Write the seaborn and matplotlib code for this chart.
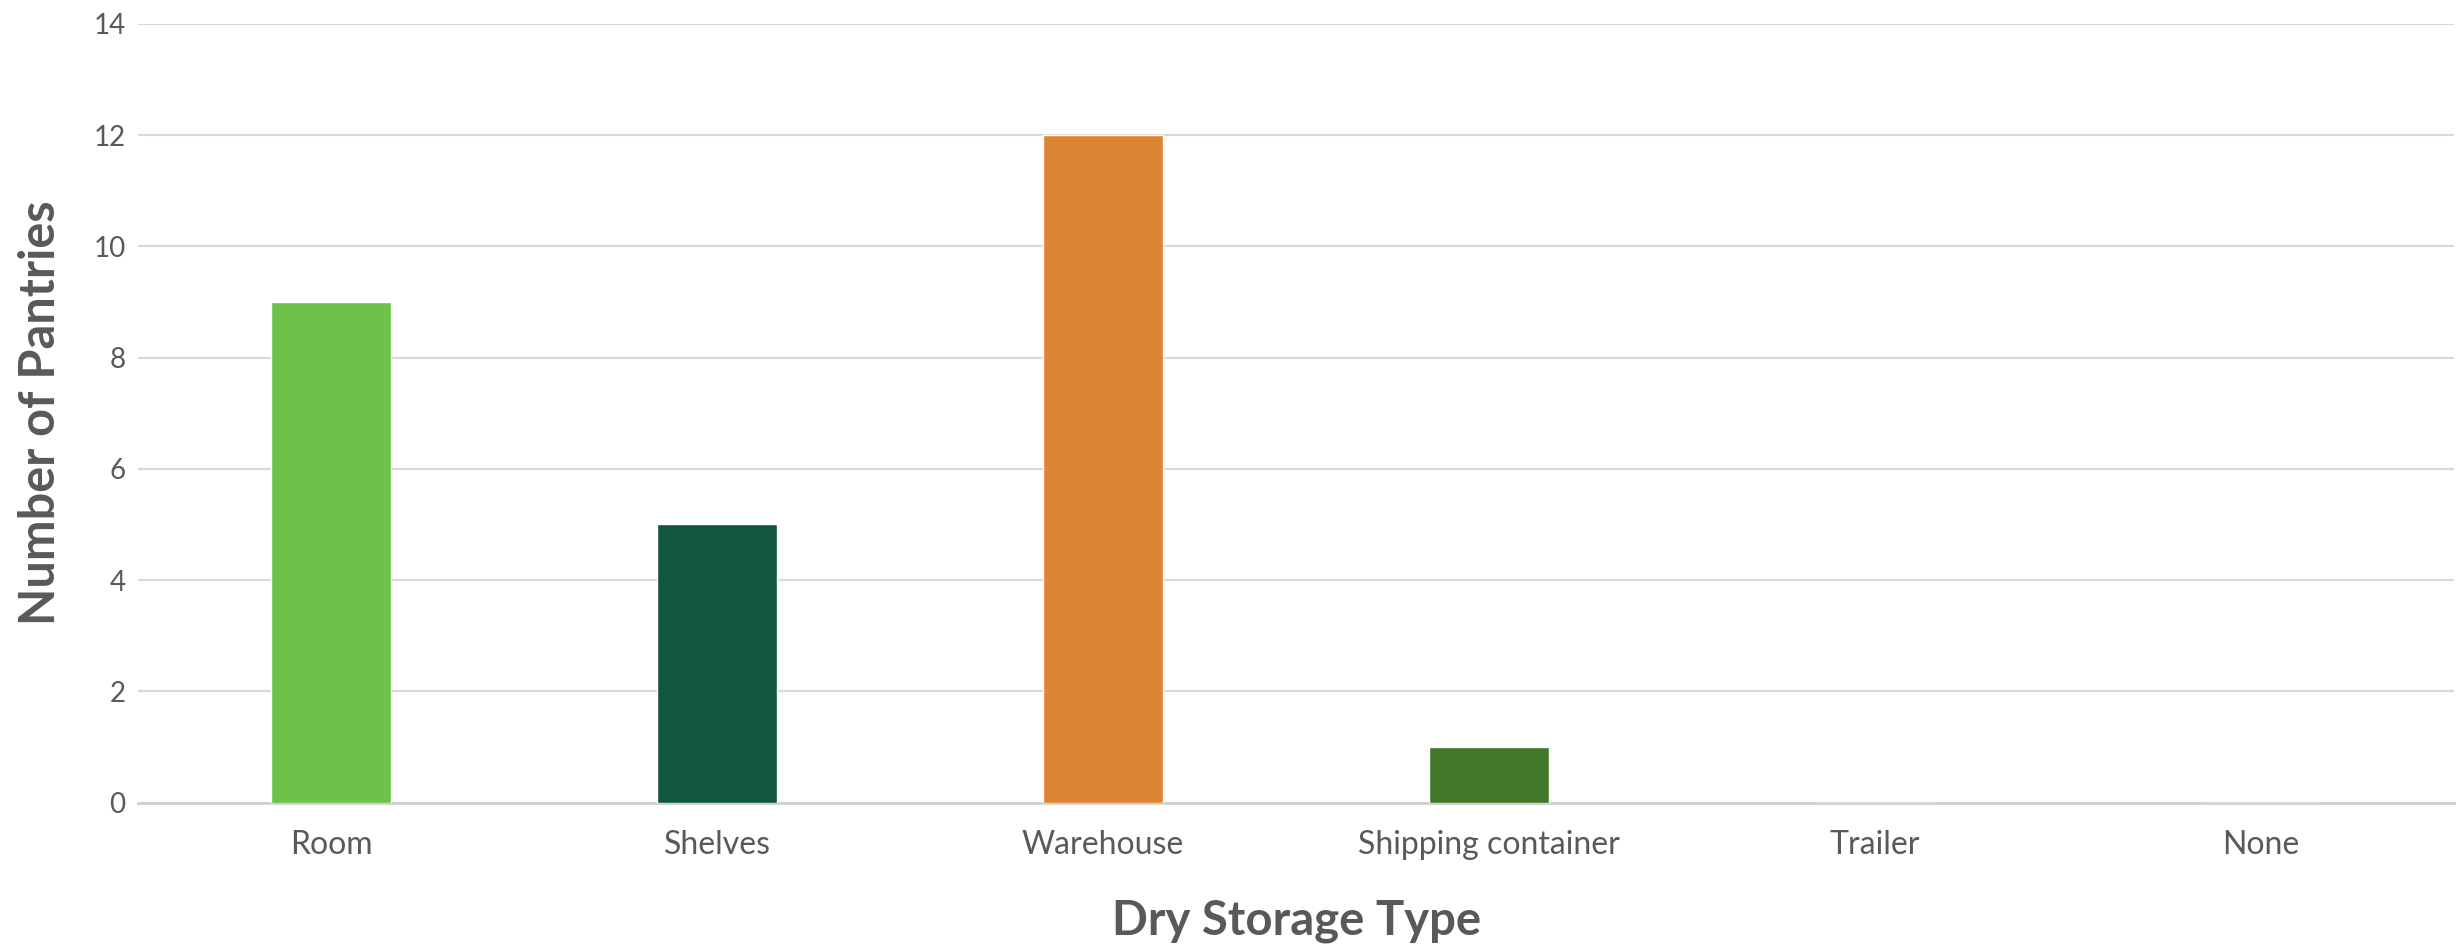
import seaborn as sns
import matplotlib.pyplot as plt
import pandas as pd

# data
storage_types = ['Room', 'Shelves', 'Warehouse', 'Shipping container', 'Trailer', 'None']
pantry_counts = [9, 5, 12, 1, 0, 0]
bar_colors = ['#6CC24A', '#115740', '#DC8633', '#41782A', '#6CC24A', '#6CC24A']
y_ticks = [0, 2, 4, 6, 8, 10, 12, 14]

df = pd.DataFrame({'type': storage_types, 'count': pantry_counts})

sns.set_style('white')
plt.rcParams['font.family'] = ['Lato', 'DejaVu Sans']

fig = plt.figure(figsize=(24.64, 9.51), dpi=100)
ax = fig.add_axes([0.056, 0.156, 0.94, 0.819])

sns.barplot(data=df, x='type', y='count', hue='type', palette=bar_colors,
            width=0.31, legend=False, saturation=1, ax=ax, zorder=3)

ax.set_ylim(0, 14)
ax.set_yticks(y_ticks)
ax.set_xlim(-0.5, len(storage_types) - 0.5)
ax.yaxis.grid(True, color='#d9d9d9', linewidth=1.5, zorder=0)
ax.set_axisbelow(True)
for side in ['top', 'right', 'left']:
    ax.spines[side].set_visible(False)
ax.spines['bottom'].set_color('#d0d0d0')
ax.spines['bottom'].set_linewidth(2)

ax.tick_params(axis='both', length=0, labelcolor='#595959')
ax.tick_params(axis='x', labelsize=23, pad=20)
ax.tick_params(axis='y', labelsize=20, pad=9)

ax.set_xlabel('Dry Storage Type', fontsize=34, fontweight='bold', color='#595959', labelpad=28)
ax.set_ylabel('Number of Pantries', fontsize=35, fontweight='bold', color='#595959', labelpad=22)

plt.savefig('out.png', dpi=100)
